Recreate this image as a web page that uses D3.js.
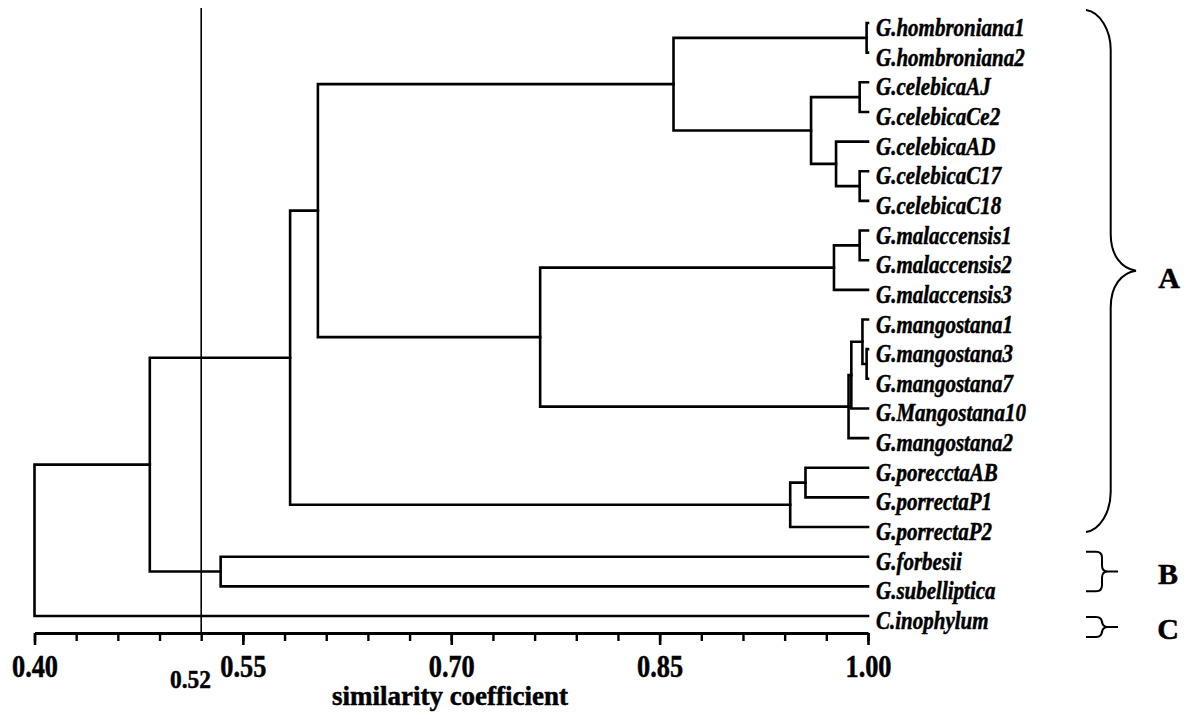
<!DOCTYPE html>
<html lang="en">
<head>
<meta charset="UTF-8">
<title>Dendrogram</title>
<script src="https://cdnjs.cloudflare.com/ajax/libs/d3/7.8.5/d3.min.js"></script>
<style>
  body { margin: 0; background: #fff; }
  svg text { font-family: "Liberation Serif", "Times New Roman", serif; font-weight: bold; fill: #000;
             stroke: #000; stroke-width: 0.5px; }
</style>
</head>
<body>
<svg id="chart" width="1195" height="719"></svg>
<script>

// leaves, top to bottom
var leaves = [
  "G.hombroniana1", "G.hombroniana2", "G.celebicaAJ", "G.celebicaCe2", "G.celebicaAD",
  "G.celebicaC17", "G.celebicaC18", "G.malaccensis1", "G.malaccensis2", "G.malaccensis3",
  "G.mangostana1", "G.mangostana3", "G.mangostana7", "G.Mangostana10", "G.mangostana2",
  "G.porecctaAB", "G.porrectaP1", "G.porrectaP2", "G.forbesii", "G.subelliptica",
  "C.inophylum"
];

// merges: [node, first child, second child, similarity]
var merges = [
  ["hom",   "G.hombroniana1", "G.hombroniana2", 0.999],
  ["celA",  "G.celebicaAJ",   "G.celebicaCe2",  0.994],
  ["celC",  "G.celebicaC17",  "G.celebicaC18",  0.994],
  ["celD",  "G.celebicaAD",   "celC",           0.977],
  ["cel",   "celA",           "celD",           0.959],
  ["hc",    "hom",            "cel",            0.860],
  ["mal12", "G.malaccensis1", "G.malaccensis2", 0.994],
  ["mal",   "mal12",          "G.malaccensis3", 0.9755],
  ["m37",   "G.mangostana3",  "G.mangostana7",  0.999],
  ["m137",  "G.mangostana1",  "m37",            0.996],
  ["m10",   "m137",           "G.Mangostana10", 0.988],
  ["mang",  "m10",            "G.mangostana2",  0.986],
  ["mm",    "mal",            "mang",           0.764],
  ["a1",    "hc",             "mm",             0.604],
  ["p1",    "G.porecctaAB",   "G.porrectaP1",   0.955],
  ["por",   "p1",             "G.porrectaP2",   0.944],
  ["A",     "a1",             "por",            0.584],
  ["B",     "G.forbesii",     "G.subelliptica", 0.534],
  ["AB",    "A",              "B",              0.483],
  ["root",  "AB",             "C.inophylum",    0.40]
];

var majorTicks = [0.40, 0.55, 0.70, 0.85, 1.00];
var minorTicks = [0.40, 0.43, 0.46, 0.49, 0.52, 0.55, 0.58, 0.61, 0.64, 0.67, 0.70,
                  0.73, 0.76, 0.79, 0.82, 0.85, 0.88, 0.91, 0.94, 0.97, 1.00];
var cutoff = 0.52;

// groups on the right
var groups = [
  {label: "A", first: "G.hombroniana1", last: "G.porrectaP2"},
  {label: "B", first: "G.forbesii",     last: "G.subelliptica"},
  {label: "C", first: "C.inophylum",    last: "C.inophylum"}
];

var svg = d3.select("#chart");

var x = d3.scaleLinear().domain([0.40, 1.00]).range([34.5, 868]);
var y = d3.scalePoint().domain(leaves).range([23, 616]);

// build the tree
var nodes = {};
leaves.forEach(function (n) { nodes[n] = {name: n, sim: 1.0}; });
merges.forEach(function (m) {
  nodes[m[0]] = {name: m[0], sim: m[3], children: [nodes[m[1]], nodes[m[2]]]};
});
var root = d3.hierarchy(nodes["root"]);

root.eachAfter(function (d) {
  if (d.children) {
    d.y = (d.children[0].y + d.children[d.children.length - 1].y) / 2;
  } else {
    d.y = y(d.data.name);
  }
  d.x = x(d.data.sim);
});

var tree = svg.append("g")
  .attr("fill", "none")
  .attr("stroke", "#000")
  .attr("stroke-width", 2.6)
  .attr("stroke-linecap", "square");

root.descendants().filter(function (d) { return d.children; }).forEach(function (d) {
  var p = "M" + d.x + "," + d.children[0].y + "V" + d.children[d.children.length - 1].y;
  d.children.forEach(function (c) {
    p += "M" + d.x + "," + c.y + "H" + c.x;
  });
  tree.append("path").attr("d", p);
});

// cut-off line
svg.append("line")
  .attr("x1", x(cutoff)).attr("x2", x(cutoff))
  .attr("y1", 8).attr("y2", 633)
  .attr("stroke", "#000").attr("stroke-width", 1.6);

// leaf labels
svg.append("g").selectAll("text")
  .data(leaves)
  .enter().append("text")
  .attr("transform", function (d) { return "translate(876," + (y(d) + 13) + ") scale(0.84,1)"; })
  .style("font-style", "italic")
  .style("font-size", "25px")
  .text(function (d) { return d; });

// axis
var axisY = 633;
var minorAxis = svg.append("g")
  .attr("transform", "translate(0," + axisY + ")")
  .call(d3.axisBottom(x).tickValues(minorTicks).tickSize(8).tickSizeOuter(0).tickFormat(""));
minorAxis.select(".domain").attr("stroke-width", 2.8);
minorAxis.selectAll(".tick line").attr("stroke-width", 2.4);

var majorAxis = svg.append("g")
  .attr("transform", "translate(0," + axisY + ")")
  .call(d3.axisBottom(x).tickValues(majorTicks).tickSize(12).tickSizeOuter(0)
        .tickFormat(d3.format(".2f")));
majorAxis.select(".domain").remove();
majorAxis.selectAll(".tick line").attr("stroke-width", 2.6);
majorAxis.selectAll(".tick text")
  .attr("y", 44).attr("dy", 0)
  .attr("transform", "scale(0.85,1)")
  .style("font-size", "31px")
  .style("font-family", "'Liberation Serif', serif");

svg.append("text")
  .attr("transform", "translate(211,688) scale(0.9,1)")
  .attr("text-anchor", "end")
  .style("font-size", "26px")
  .text(d3.format(".2f")(cutoff));

svg.append("text")
  .attr("x", 450).attr("y", 705)
  .attr("text-anchor", "middle")
  .style("font-size", "27px")
  .text("similarity coefficient");

// brackets
var braceX = 1086;
groups.forEach(function (g) {
  var path;
  if (g.label === "A") {
    var t = y(g.first) - 13, b = y(g.last) + 5, m = 270.7, v = 1110.7, tip = 1136;
    path = "M" + braceX + "," + t +
      "C" + (braceX + 14) + "," + (t + 2) + " " + v + "," + (t + 20) + " " + v + "," + (t + 40) +
      "L" + v + "," + (m - 37) +
      "C" + v + "," + (m - 15) + " " + (v + 11) + "," + (m - 2) + " " + tip + "," + m +
      "C" + (v + 11) + "," + (m + 2) + " " + v + "," + (m + 15) + " " + v + "," + (m + 37) +
      "L" + v + "," + (b - 40) +
      "C" + v + "," + (b - 20) + " " + (braceX + 14) + "," + (b - 2) + " " + braceX + "," + b;
    svg.append("text").attr("x", 1169).attr("y", m + 17)
      .attr("text-anchor", "middle").style("font-size", "30px").text(g.label);
  } else {
    var top, bot;
    if (g.label === "B") { top = y(g.first) - 5; bot = y(g.last) + 5; }
    else { top = y(g.first) + 1; bot = y(g.last) + 21; }
    var mid = (top + bot) / 2, vx = 1102;
    path = "M" + braceX + "," + top + "H" + (vx - 6) +
      "Q" + vx + "," + top + " " + vx + "," + (top + 6) +
      "V" + (mid - 6) + "Q" + vx + "," + mid + " " + (vx + 6) + "," + mid + "H1118" +
      "M" + (vx + 6) + "," + mid + "Q" + vx + "," + mid + " " + vx + "," + (mid + 6) +
      "V" + (bot - 6) + "Q" + vx + "," + bot + " " + (vx - 6) + "," + bot + "H" + braceX;
    svg.append("text").attr("x", 1168).attr("y", mid + 12)
      .attr("text-anchor", "middle").style("font-size", "30px").text(g.label);
  }
  svg.append("path").attr("d", path)
    .attr("fill", "none").attr("stroke", "#000").attr("stroke-width", 2);
});

</script>
</body>
</html>
